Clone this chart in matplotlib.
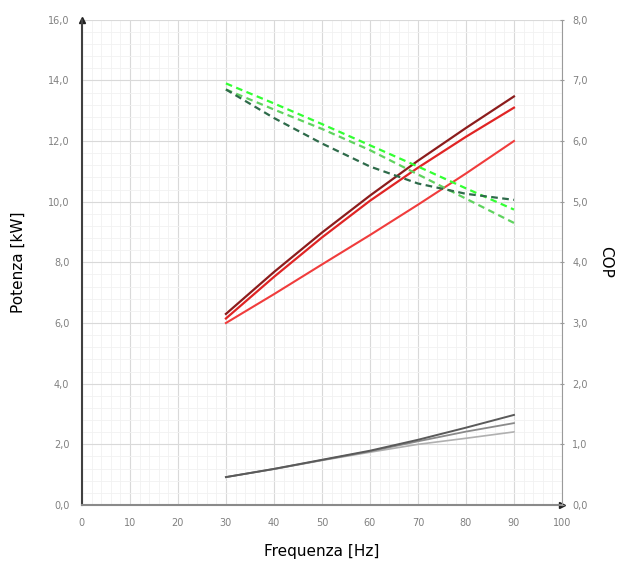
import numpy as np
import matplotlib
matplotlib.use("Agg")
import matplotlib.pyplot as plt
from matplotlib.ticker import FuncFormatter, MultipleLocator

# Data
freq = [30, 40, 50, 60, 70, 80, 90]

# Potenza [kW] - left axis
pot_dark_red = [6.3, 7.68, 8.98, 10.2, 11.35, 12.43, 13.47]
pot_red = [6.15, 7.52, 8.82, 10.03, 11.12, 12.14, 13.1]
pot_light_red = [6.0, 6.95, 7.93, 8.9, 9.9, 10.93, 12.0]

pot_gray_dark = [0.92, 1.19, 1.49, 1.79, 2.15, 2.55, 2.97]
pot_gray_mid = [0.92, 1.19, 1.48, 1.77, 2.1, 2.42, 2.7]
pot_gray_light = [0.92, 1.18, 1.47, 1.74, 2.0, 2.2, 2.41]

# COP - right axis
cop_dark_green = [6.85, 6.38, 5.96, 5.58, 5.3, 5.13, 5.03]
cop_green_1 = [6.95, 6.62, 6.28, 5.93, 5.58, 5.22, 4.87]
cop_green_2 = [6.85, 6.52, 6.2, 5.85, 5.45, 5.05, 4.65]

x_ticks = list(range(0, 101, 10))
y_ticks = list(range(0, 17, 2))
cop_ticks = list(range(0, 9))


def comma(v, pos):
    return f"{v:.1f}".replace(".", ",")


fig = plt.figure(figsize=(6.3, 5.63), dpi=100)
ax = fig.add_axes([0.130, 0.103, 0.762, 0.862])
ax2 = ax.twinx()

tick_col = "#808080"

# grid
ax.set_xlim(0, 100)
ax.set_ylim(0, 16)
ax.set_xticks(x_ticks)
ax.set_yticks(y_ticks)
ax.xaxis.set_minor_locator(MultipleLocator(2))
ax.yaxis.set_minor_locator(MultipleLocator(0.4))
ax.grid(True, which="major", color="#d9d9d9", linewidth=0.8)
ax.grid(True, which="minor", color="#f1f1f1", linewidth=0.6)
ax.set_axisbelow(True)

# power curves
ax.plot(freq, pot_light_red, color="#f03c3c", lw=1.5)
ax.plot(freq, pot_red, color="#e02424", lw=1.6)
ax.plot(freq, pot_dark_red, color="#8c1c1c", lw=1.6)
ax.plot(freq, pot_gray_light, color="#b0b0b0", lw=1.2)
ax.plot(freq, pot_gray_mid, color="#8a8a8a", lw=1.3)
ax.plot(freq, pot_gray_dark, color="#5a5a5a", lw=1.4)

# COP curves
ax2.set_ylim(0, 8)
ax2.set_yticks(cop_ticks)
ax2.plot(freq, cop_green_2, color="#5fd35f", lw=1.6, ls=(0, (3, 2)))
ax2.plot(freq, cop_green_1, color="#33ff33", lw=1.6, ls=(0, (3, 2)))
ax2.plot(freq, cop_dark_green, color="#2e6b4a", lw=1.6, ls=(0, (3, 2)))

# spines / arrows
ax.spines["top"].set_visible(False)
ax2.spines["top"].set_visible(False)
ax2.spines["left"].set_visible(False)
ax2.spines["bottom"].set_visible(False)
ax.spines["right"].set_visible(False)
ax.spines["left"].set_color("#404040")
ax.spines["left"].set_linewidth(1.5)
ax.spines["bottom"].set_color("#8a8a8a")
ax.spines["bottom"].set_linewidth(1.5)
ax2.spines["right"].set_color("#9a9a9a")
ax2.spines["right"].set_linewidth(0.8)
ax.plot(0, 1, "^", color="#202020", ms=5, transform=ax.transAxes, clip_on=False)
ax.plot(1, 0, ">", color="#202020", ms=5, transform=ax.transAxes, clip_on=False)

ax.tick_params(axis="both", which="both", length=0, labelsize=7, colors=tick_col)
ax.tick_params(axis="x", pad=9)
ax.tick_params(axis="y", pad=9)
ax2.tick_params(axis="y", length=3, direction="inout", labelsize=7,
                colors="#9a9a9a", labelcolor=tick_col, pad=6)

ax.yaxis.set_major_formatter(FuncFormatter(comma))
ax2.yaxis.set_major_formatter(FuncFormatter(comma))

ax.set_xlabel("Frequenza [Hz]", fontsize=11, color="black", labelpad=12)
ax.set_ylabel("Potenza [kW]", fontsize=11, color="black", labelpad=16)
ax2.set_ylabel("COP", fontsize=11, color="black", rotation=270, labelpad=18)

fig.savefig("out.png", dpi=100)
